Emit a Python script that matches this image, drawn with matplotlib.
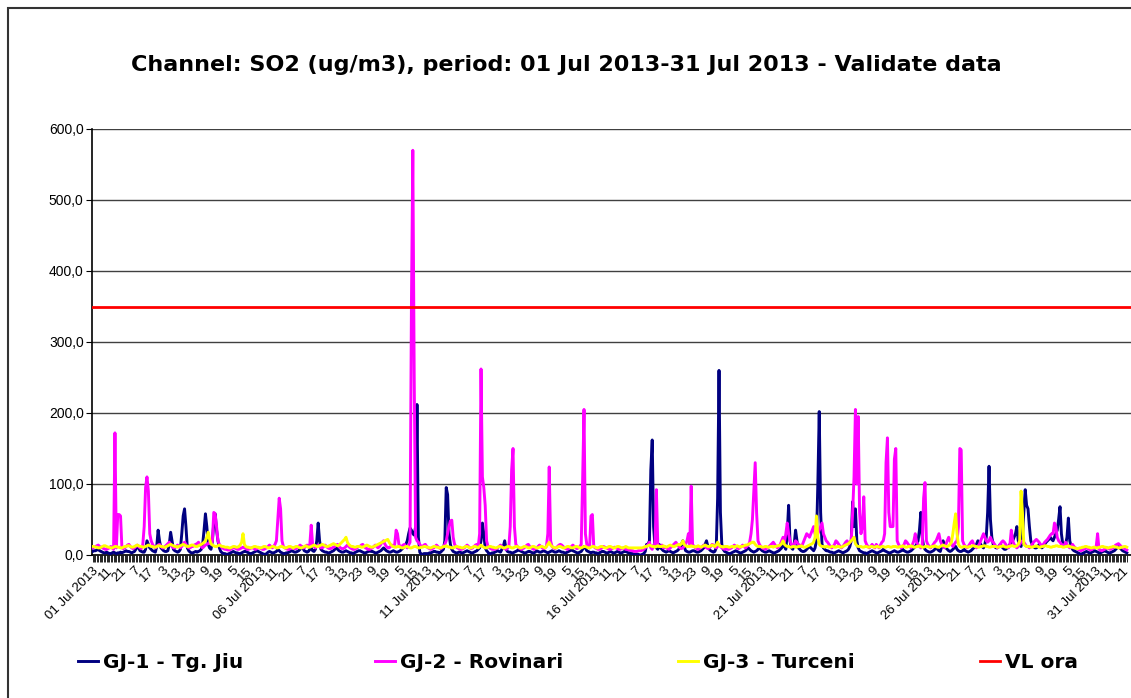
import matplotlib
matplotlib.use("Agg")
import matplotlib.pyplot as plt
import numpy as np
from matplotlib.patches import Rectangle
from matplotlib.ticker import FuncFormatter

plt.rcParams['font.family'] = ['Liberation Sans', 'DejaVu Sans']

# hourly SO2 values (ug/m3), one row per day of July 2013, 24 hours each
tgjiu = [
    [5, 6, 6, 7, 8, 6, 5, 4, 3, 3, 4, 3, 2, 2, 3, 4, 3, 2, 3, 3, 4, 3, 4, 5],
    [6, 5, 5, 4, 3, 4, 5, 8, 12, 10, 6, 5, 4, 4, 8, 20, 15, 10, 8, 6, 5, 4, 12, 35],
    [20, 10, 8, 6, 5, 5, 6, 15, 32, 20, 8, 6, 5, 4, 5, 8, 30, 55, 65, 40, 10, 6, 4, 3],
    [3, 4, 5, 4, 5, 6, 8, 15, 35, 58, 40, 15, 10, 8, 20, 45, 58, 35, 20, 10, 5, 3, 2, 2],
    [1, 1, 2, 3, 4, 5, 4, 3, 3, 2, 2, 3, 4, 5, 5, 4, 3, 2, 2, 3, 4, 5, 6, 5],
    [4, 3, 2, 1, 1, 2, 4, 5, 4, 3, 3, 4, 5, 8, 6, 4, 3, 2, 2, 3, 3, 4, 5, 6],
    [5, 4, 4, 5, 6, 8, 12, 10, 6, 5, 4, 5, 8, 10, 6, 5, 8, 20, 45, 20, 8, 6, 5, 4],
    [4, 3, 3, 4, 5, 6, 8, 10, 8, 6, 5, 4, 4, 5, 6, 5, 4, 3, 3, 2, 3, 4, 5, 6],
    [6, 5, 4, 3, 3, 4, 5, 6, 5, 5, 4, 3, 3, 4, 5, 6, 8, 10, 8, 6, 5, 4, 4, 5],
    [6, 5, 4, 4, 5, 6, 8, 10, 12, 15, 20, 30, 38, 35, 30, 28, 40, 212, 25, 4, 1, 1, 2, 2],
    [2, 2, 3, 3, 4, 5, 5, 4, 4, 3, 4, 6, 8, 20, 95, 85, 30, 15, 8, 5, 4, 3, 3, 4],
    [4, 3, 3, 4, 5, 6, 5, 4, 3, 3, 4, 5, 6, 8, 10, 20, 45, 30, 10, 6, 4, 0, 2, 3],
    [3, 4, 5, 6, 5, 4, 8, 12, 20, 8, 5, 4, 4, 3, 3, 4, 5, 6, 8, 6, 5, 4, 3, 3],
    [4, 5, 5, 4, 3, 3, 4, 6, 5, 4, 4, 5, 6, 5, 4, 3, 4, 5, 6, 5, 4, 4, 5, 6],
    [5, 4, 4, 3, 3, 4, 5, 6, 8, 6, 5, 4, 3, 3, 4, 5, 8, 12, 10, 6, 5, 4, 3, 4],
    [4, 3, 3, 2, 3, 4, 5, 5, 4, 3, 3, 4, 5, 4, 3, 3, 4, 5, 4, 3, 3, 4, 5, 5],
    [4, 3, 3, 2, 2, 1, 1, 1, 1, 0, 0, 1, 2, 5, 15, 15, 20, 120, 162, 40, 12, 10, 8, 15],
    [10, 8, 6, 5, 4, 5, 6, 5, 4, 3, 4, 5, 6, 8, 10, 15, 20, 12, 6, 5, 4, 4, 5, 6],
    [6, 5, 4, 4, 5, 6, 8, 10, 15, 20, 12, 8, 6, 5, 4, 5, 10, 80, 260, 60, 15, 8, 5, 4],
    [3, 2, 2, 3, 4, 5, 6, 5, 4, 3, 3, 4, 5, 6, 8, 10, 8, 6, 5, 4, 5, 6, 8, 10],
    [8, 6, 5, 4, 4, 5, 6, 5, 4, 3, 3, 4, 5, 6, 8, 10, 15, 12, 8, 30, 70, 20, 10, 8],
    [15, 35, 20, 10, 8, 6, 5, 5, 6, 8, 10, 12, 10, 8, 6, 10, 20, 100, 202, 60, 15, 10, 8, 6],
    [6, 5, 4, 4, 3, 3, 4, 5, 6, 5, 4, 3, 4, 5, 6, 8, 12, 20, 75, 40, 65, 20, 10, 6],
    [5, 4, 3, 3, 2, 3, 4, 5, 6, 5, 4, 3, 3, 4, 5, 6, 8, 6, 5, 4, 3, 3, 4, 5],
    [6, 5, 4, 4, 5, 6, 8, 6, 5, 4, 4, 5, 6, 8, 10, 12, 15, 20, 35, 60, 25, 12, 8, 6],
    [5, 4, 4, 5, 6, 8, 10, 8, 6, 5, 12, 20, 15, 10, 8, 6, 5, 6, 8, 10, 12, 8, 6, 5],
    [5, 6, 8, 6, 5, 4, 5, 6, 8, 10, 12, 15, 20, 18, 15, 12, 10, 15, 25, 60, 125, 50, 25, 15],
    [12, 10, 10, 12, 15, 12, 10, 8, 8, 10, 12, 15, 18, 20, 25, 30, 40, 20, 15, 12, 25, 60, 92, 70],
    [65, 40, 20, 15, 12, 10, 10, 12, 15, 12, 10, 12, 15, 18, 20, 22, 25, 22, 20, 25, 30, 35, 50, 68],
    [30, 15, 12, 15, 25, 52, 20, 12, 8, 6, 5, 4, 3, 2, 1, 2, 3, 4, 5, 4, 3, 3, 4, 5],
    [6, 5, 4, 3, 3, 4, 5, 6, 5, 4, 3, 3, 4, 5, 6, 8, 10, 12, 10, 8, 6, 5, 4, 3],
]

rovinari = [
    [10, 11, 12, 13, 14, 12, 11, 10, 9, 8, 8, 9, 10, 12, 10, 8, 172, 10, 57, 57, 55, 10, 9, 10],
    [12, 14, 15, 12, 10, 9, 10, 12, 14, 12, 10, 9, 15, 40, 95, 110, 90, 30, 20, 15, 12, 10, 12, 14],
    [15, 12, 10, 10, 12, 14, 16, 18, 15, 12, 10, 10, 12, 14, 12, 10, 12, 15, 18, 15, 12, 10, 10, 12],
    [12, 14, 15, 16, 18, 15, 12, 10, 12, 14, 15, 16, 18, 15, 20, 60, 58, 40, 20, 15, 12, 10, 9, 8],
    [8, 7, 7, 8, 9, 10, 10, 9, 8, 8, 9, 10, 11, 10, 9, 8, 8, 9, 10, 10, 9, 8, 9, 10],
    [10, 9, 8, 8, 9, 10, 12, 14, 12, 10, 12, 15, 20, 50, 80, 65, 20, 12, 10, 9, 8, 8, 9, 10],
    [10, 9, 9, 10, 12, 14, 12, 10, 10, 12, 14, 12, 15, 42, 15, 12, 10, 12, 14, 12, 10, 10, 12, 14],
    [12, 10, 9, 9, 10, 11, 12, 14, 15, 12, 10, 9, 9, 10, 12, 14, 12, 10, 9, 8, 8, 9, 10, 12],
    [12, 14, 15, 12, 10, 9, 8, 8, 9, 10, 12, 14, 12, 10, 12, 15, 18, 20, 15, 12, 10, 10, 12, 14],
    [12, 15, 35, 30, 15, 12, 12, 14, 15, 12, 10, 14, 18, 350, 570, 250, 25, 20, 18, 15, 12, 12, 14, 15],
    [12, 10, 9, 8, 9, 10, 12, 14, 12, 10, 9, 10, 12, 15, 20, 30, 40, 48, 49, 25, 15, 12, 10, 9],
    [8, 8, 9, 10, 12, 14, 12, 10, 9, 10, 12, 14, 15, 12, 30, 262, 110, 95, 70, 20, 12, 10, 9, 8],
    [8, 8, 9, 10, 12, 14, 12, 10, 9, 8, 9, 12, 40, 120, 150, 40, 15, 12, 10, 9, 8, 9, 10, 12],
    [14, 15, 12, 10, 9, 8, 9, 10, 12, 14, 12, 10, 9, 10, 12, 30, 124, 20, 12, 10, 9, 10, 12, 14],
    [15, 14, 12, 10, 9, 8, 9, 10, 12, 14, 12, 10, 9, 10, 12, 15, 105, 205, 30, 15, 12, 10, 55, 57],
    [12, 10, 9, 8, 8, 9, 10, 12, 11, 10, 9, 8, 8, 9, 10, 11, 10, 9, 8, 8, 9, 10, 9, 8],
    [8, 7, 7, 6, 6, 5, 5, 5, 6, 6, 6, 7, 8, 10, 12, 15, 18, 10, 8, 14, 12, 92, 15, 12],
    [12, 14, 10, 12, 10, 9, 8, 10, 12, 14, 16, 18, 15, 12, 10, 9, 10, 12, 15, 20, 30, 15, 97, 15],
    [12, 10, 9, 8, 9, 10, 12, 14, 12, 10, 9, 10, 12, 15, 14, 12, 10, 12, 15, 12, 10, 9, 8, 9],
    [8, 8, 9, 10, 12, 14, 12, 10, 9, 10, 12, 14, 12, 10, 12, 14, 18, 30, 50, 90, 130, 60, 20, 15],
    [12, 10, 9, 8, 9, 10, 12, 14, 16, 18, 15, 12, 10, 12, 15, 20, 25, 18, 30, 45, 30, 20, 15, 12],
    [15, 20, 18, 15, 14, 12, 15, 20, 25, 30, 28, 25, 30, 35, 40, 30, 25, 30, 35, 40, 45, 30, 25, 20],
    [18, 15, 12, 10, 12, 15, 20, 18, 15, 12, 10, 12, 15, 18, 20, 15, 18, 20, 60, 110, 205, 100, 195, 60],
    [30, 40, 82, 20, 15, 12, 10, 12, 15, 12, 10, 15, 12, 10, 14, 18, 20, 30, 130, 165, 60, 40, 40, 40],
    [135, 150, 20, 15, 12, 10, 12, 15, 20, 18, 15, 12, 10, 15, 20, 30, 18, 15, 12, 10, 15, 80, 102, 20],
    [15, 12, 10, 12, 15, 18, 20, 25, 30, 20, 15, 12, 10, 15, 20, 25, 20, 15, 12, 15, 18, 20, 40, 150],
    [148, 20, 15, 12, 10, 12, 15, 18, 20, 15, 12, 10, 12, 15, 20, 25, 30, 25, 20, 18, 20, 25, 20, 18],
    [15, 12, 10, 12, 15, 18, 20, 18, 15, 12, 10, 15, 35, 20, 15, 12, 10, 12, 15, 18, 20, 18, 15, 12],
    [12, 10, 12, 15, 18, 20, 22, 20, 18, 15, 12, 15, 18, 20, 22, 25, 28, 30, 30, 45, 40, 25, 20, 18],
    [15, 14, 12, 18, 15, 12, 10, 12, 15, 12, 10, 9, 8, 7, 6, 7, 8, 9, 10, 9, 8, 7, 8, 9],
    [10, 12, 30, 8, 7, 6, 7, 8, 9, 10, 9, 8, 9, 10, 12, 14, 15, 16, 14, 12, 10, 9, 8, 7],
]

turceni = [
    [12, 12, 11, 11, 10, 10, 11, 12, 13, 13, 12, 11, 11, 10, 10, 11, 12, 12, 11, 11, 10, 10, 11, 12],
    [12, 13, 13, 12, 11, 11, 12, 13, 14, 13, 12, 12, 11, 11, 12, 13, 14, 13, 12, 12, 11, 11, 12, 13],
    [13, 12, 12, 11, 11, 12, 13, 14, 15, 14, 13, 12, 12, 11, 12, 13, 14, 15, 14, 13, 12, 12, 13, 14],
    [14, 13, 12, 12, 13, 14, 15, 16, 18, 20, 25, 32, 22, 16, 14, 13, 12, 12, 13, 14, 13, 12, 12, 11],
    [11, 11, 10, 10, 11, 12, 12, 11, 11, 12, 14, 18, 30, 15, 12, 11, 11, 10, 10, 11, 12, 12, 11, 11],
    [10, 10, 11, 12, 12, 11, 10, 10, 11, 12, 12, 11, 10, 10, 11, 12, 12, 11, 10, 10, 11, 12, 12, 11],
    [10, 11, 12, 12, 11, 10, 10, 11, 12, 13, 12, 11, 11, 12, 13, 14, 13, 12, 12, 13, 14, 15, 14, 13],
    [12, 12, 13, 14, 15, 16, 15, 14, 13, 14, 16, 18, 20, 22, 25, 18, 15, 13, 12, 12, 11, 11, 12, 12],
    [12, 11, 11, 12, 13, 14, 13, 12, 11, 11, 12, 13, 14, 15, 16, 17, 18, 19, 20, 21, 22, 18, 15, 13],
    [12, 11, 11, 12, 12, 11, 10, 10, 11, 12, 12, 11, 10, 10, 11, 12, 12, 11, 10, 10, 11, 11, 12, 12],
    [11, 11, 10, 10, 11, 12, 12, 11, 11, 10, 10, 11, 12, 12, 13, 12, 11, 11, 10, 10, 11, 12, 12, 11],
    [11, 10, 10, 11, 12, 12, 11, 10, 10, 11, 12, 12, 11, 10, 12, 14, 12, 11, 10, 10, 11, 12, 12, 11],
    [11, 10, 10, 11, 12, 12, 11, 10, 10, 11, 12, 12, 11, 10, 10, 11, 12, 12, 11, 10, 10, 11, 12, 12],
    [11, 10, 10, 11, 12, 12, 11, 10, 10, 11, 12, 12, 11, 10, 12, 15, 18, 14, 12, 11, 10, 10, 11, 12],
    [12, 11, 10, 10, 11, 12, 12, 11, 10, 10, 11, 12, 12, 11, 10, 10, 11, 12, 12, 11, 10, 10, 11, 12],
    [12, 11, 10, 10, 11, 12, 12, 11, 10, 10, 11, 12, 12, 11, 10, 10, 11, 12, 12, 11, 10, 10, 11, 12],
    [11, 10, 10, 10, 10, 10, 10, 10, 10, 10, 10, 10, 11, 12, 12, 13, 14, 13, 12, 12, 11, 12, 13, 12],
    [12, 12, 13, 12, 11, 12, 13, 14, 13, 12, 12, 13, 14, 15, 14, 16, 20, 15, 13, 12, 12, 12, 13, 12],
    [12, 11, 12, 13, 12, 11, 12, 13, 14, 13, 12, 12, 13, 14, 13, 12, 14, 18, 14, 12, 12, 11, 12, 12],
    [12, 11, 11, 12, 12, 11, 12, 13, 12, 11, 12, 12, 13, 14, 14, 15, 16, 17, 18, 18, 15, 13, 12, 12],
    [12, 11, 11, 12, 12, 11, 11, 12, 12, 11, 12, 12, 13, 13, 14, 16, 20, 15, 13, 12, 12, 11, 11, 12],
    [12, 11, 11, 12, 12, 13, 12, 11, 11, 12, 13, 14, 15, 16, 18, 25, 55, 25, 15, 13, 12, 12, 11, 12],
    [12, 11, 11, 12, 12, 11, 11, 12, 12, 11, 11, 12, 13, 14, 15, 16, 18, 20, 22, 25, 16, 13, 12, 12],
    [12, 11, 11, 12, 12, 11, 11, 12, 12, 11, 11, 12, 12, 11, 11, 12, 12, 11, 11, 12, 12, 11, 11, 12],
    [12, 12, 11, 11, 12, 12, 13, 12, 11, 11, 12, 12, 13, 12, 11, 11, 12, 12, 13, 12, 11, 11, 12, 12],
    [12, 11, 11, 12, 12, 13, 12, 11, 11, 12, 13, 14, 13, 12, 12, 13, 15, 18, 30, 45, 58, 30, 15, 12],
    [11, 11, 12, 12, 11, 11, 12, 12, 13, 13, 12, 12, 11, 11, 12, 12, 13, 13, 12, 12, 11, 11, 12, 12],
    [12, 12, 11, 11, 12, 12, 13, 12, 11, 11, 12, 12, 13, 13, 12, 12, 13, 15, 20, 90, 60, 15, 13, 12],
    [12, 12, 11, 11, 12, 12, 13, 12, 11, 11, 12, 12, 13, 13, 12, 12, 11, 11, 12, 12, 13, 13, 12, 12],
    [12, 11, 11, 12, 12, 13, 12, 11, 11, 10, 10, 9, 9, 10, 10, 11, 11, 12, 12, 11, 11, 10, 10, 11],
    [11, 10, 10, 11, 11, 12, 12, 11, 11, 10, 10, 11, 11, 12, 12, 11, 11, 10, 10, 11, 11, 12, 12, 11],
]

vl_ora = 350
days = list(range(1, 32))

y1 = np.concatenate(tgjiu)
y2 = np.concatenate(rovinari)
y3 = np.concatenate(turceni)
x = np.arange(len(y1))

fig = plt.figure(figsize=(11.31, 6.98), dpi=100)
ax = fig.add_axes([92 / 1131, 1 - 555 / 698, 1 - 92 / 1131, 426 / 698])

l1, = ax.plot(x, y1, color='#000080', lw=2.1, label='GJ-1 - Tg. Jiu', zorder=3)
l2, = ax.plot(x, y2, color='#FF00FF', lw=2.1, label='GJ-2 - Rovinari', zorder=3)
l3, = ax.plot(x, y3, color='#FFFF00', lw=2.1, label='GJ-3 - Turceni', zorder=3)
l4 = ax.axhline(vl_ora, color='#FF0000', lw=2.0, label='VL ora', zorder=4)

ax.set_xlim(-0.5, len(x) + 2)
ax.set_ylim(0, 600)
ax.set_yticks(np.arange(0, 601, 100))
ax.yaxis.set_major_formatter(FuncFormatter(lambda v, p: f"{v:.1f}".replace('.', ',')))
ax.grid(axis='y', color='#404040', lw=1)
ax.set_axisbelow(True)

# label every 10 hours: the date at the start of a day, the hour otherwise
tick_pos = np.arange(0, len(x), 10)
tick_lab = []
for i in tick_pos:
    if i % 24 == 0:
        tick_lab.append(f"{days[i // 24]:02d} Jul 2013")
    else:
        tick_lab.append(str(i % 24 + 1))
ax.set_xticks(tick_pos)
ax.set_xticklabels(tick_lab, rotation=45, ha='right', rotation_mode='anchor', fontsize=9.5)
ax.set_xticks(x, minor=True)
ax.tick_params(axis='x', which='both', length=5, width=0.6, pad=2)
ax.tick_params(axis='y', length=4, pad=2, labelsize=10)

for s in ['top', 'right']:
    ax.spines[s].set_visible(False)
ax.spines['left'].set_linewidth(1.2)
ax.spines['bottom'].set_linewidth(1.2)

fig.text(566 / 1131, 1 - 65 / 698,
         'Channel: SO2 (ug/m3), period: 01 Jul 2013-31 Jul 2013 - Validate data',
         ha='center', va='center', fontsize=16, fontweight='bold', family='DejaVu Sans')

# one legend entry per slot along the bottom, as in the original layout
leg_x = [78, 375, 678, 980]
for line, lx in zip([l1, l2, l3, l4], leg_x):
    fig.legend([line], [line.get_label()], loc='center left',
               bbox_to_anchor=(lx / 1131, 1 - 663 / 698), frameon=False,
               prop={'weight': 'bold', 'size': 14.5, 'family': 'DejaVu Sans'},
               handlelength=1.0, handletextpad=0.25, borderpad=0, borderaxespad=0)

fig.patches.append(Rectangle((8 / 1131, -0.1), 1.2, 1.1 - 8 / 698,
                             transform=fig.transFigure, fill=False,
                             edgecolor='#333333', lw=1.5))

fig.savefig('out.png', dpi=100)
